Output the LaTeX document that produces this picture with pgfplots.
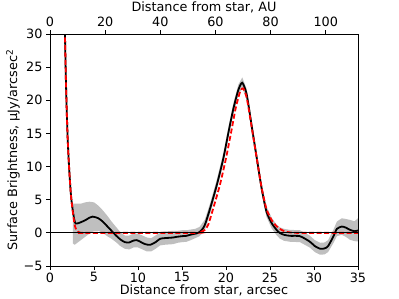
\documentclass[border=0pt]{standalone}
\usepackage{fontspec}
\setmainfont{DejaVu Sans}
\usepackage{pgfplots}
\pgfplotsset{compat=1.18}
\usepgfplotslibrary{fillbetween}

\pgfplotstableread{
x lo hi
2.6 -1.6 4.4
2.8 -1.8 4.4
3.0 -1.6 4.4
3.5 -1.1 4.4
4.0 -0.6 4.6
4.5 -0.1 4.7
5.0 0.3 4.6
5.5 0.3 4.1
6.0 0.0 3.4
6.5 -0.5 2.6
7.0 -0.9 1.7
7.5 -1.4 0.9
8.0 -2.0 0.1
8.5 -2.4 -0.4
9.0 -2.5 -0.4
9.5 -2.2 -0.1
10.0 -2.2 -0.1
10.5 -2.5 -0.4
11.0 -2.8 -0.7
11.5 -2.8 -0.8
12.0 -2.4 -0.4
12.5 -1.9 0.1
13.0 -1.8 0.2
13.5 -1.75 0.25
14.0 -1.7 0.3
14.5 -1.5 0.3
15.0 -1.4 0.4
15.5 -1.35 0.4
16.0 -1.1 0.5
16.5 -0.8 0.6
17.0 -0.5 0.9
17.6 0.4 2.0
18.2 2.9 4.5
18.95 6.4 8.0
19.7 10.45 12.05
20.3 14.5 16.1
20.85 18.0 19.6
21.4 20.75 22.35
21.85 21.85 23.45
22.35 20.1 21.7
22.9 15.5 17.1
23.5 10.45 12.05
24.05 5.9 7.5
24.6 2.4 4.0
25.2 0.65 2.25
25.75 -0.35 1.25
26.1 -0.85 0.85
26.6 -1.2 0.6
27.3 -1.35 0.45
28.4 -1.4 0.4
29.5 -2.2 -0.4
30.1 -2.9 -1.1
30.7 -3.3 -1.5
31.2 -3.25 -1.45
31.6 -2.9 -1.1
32.2 -1.55 0.45
32.6 -0.5 1.7
33.15 -0.3 2.2
33.6 -0.6 2.1
34.1 -1.05 1.95
34.6 -1.25 1.75
35.0 -1.3 2.2
}\bandtab

\pgfplotstableread{
x y
1.65 34
1.7 30
1.8 23.5
1.9 18.5
2.0 14.5
2.1 11.6
2.2 9.2
2.35 6.2
2.45 4.8
2.58 3.45
2.73 2.2
2.85 1.55
2.95 1.4
3.2 1.45
3.5 1.6
4.0 1.9
4.5 2.3
4.85 2.45
5.2 2.35
5.5 2.2
6.0 1.7
6.5 1.0
7.0 0.3
7.5 -0.4
8.0 -1.0
8.5 -1.4
9.0 -1.45
9.5 -1.15
9.85 -1.1
10.2 -1.3
10.8 -1.7
11.4 -1.8
12.0 -1.4
12.5 -0.9
13.0 -0.8
13.5 -0.75
14.0 -0.7
14.4 -0.6
15.0 -0.5
15.5 -0.45
15.9 -0.3
16.4 -0.15
16.85 0.0
17.25 0.45
17.6 1.2
18.2 3.7
18.95 7.2
19.7 11.25
20.3 15.3
20.85 18.8
21.4 21.55
21.85 22.65
22.35 20.9
22.9 16.3
23.5 11.25
24.05 6.7
24.6 3.2
25.2 1.45
25.75 0.45
26.1 0.0
26.6 -0.3
27.3 -0.45
28.4 -0.5
29.5 -1.3
30.1 -2.0
30.7 -2.4
31.2 -2.35
31.6 -2.0
32.2 -0.55
32.6 0.6
33.15 0.95
33.6 0.8
34.1 0.45
34.6 0.25
35.0 0.35
}\obstab

\pgfplotstableread{
x y
1.65 34
1.7 30
1.8 23.5
1.9 18.5
2.0 14.5
2.1 11.6
2.2 9.2
2.35 6.2
2.45 4.8
2.58 3.3
2.73 1.8
2.84 1.0
3.0 0.45
3.2 0.15
3.45 0.02
3.7 0
16.5 0
17.0 0.08
17.6 0.45
18.0 1.3
18.55 3.7
19.3 7.2
20.0 11.25
20.6 15.3
21.1 18.8
21.6 21.3
21.95 21.8
22.35 20.4
22.9 16.1
23.5 11.2
24.05 6.8
24.6 3.6
25.2 1.9
25.75 1.0
26.3 0.45
26.9 0.15
27.5 0.03
28.2 0
35 0
}\modeltab

\begin{document}
\begin{tikzpicture}[font=\fontsize{12.8bp}{15bp}\selectfont]
\begin{axis}[
  at={(0,0)}, anchor=south west,
  scale only axis, width=308bp, height=232bp,
  xmin=0, xmax=35, ymin=-5, ymax=30,
  xtick={0,5,10,15,20,25,30,35},
  xticklabels={0,5,10,15,20,25,30,35},
  ytick={-5,0,5,10,15,20,25,30},
  yticklabels={−5,0,5,10,15,20,25,30},
  tick pos=left, tick align=outside,
  major tick length=4bp,
  tick style={black, line width=0.8bp},
  axis line style={line width=0.8bp},
  xlabel={Distance from star, arcsec},
  ylabel={Surface Brightness, μJy/arcsec\textsuperscript{2}},
  xlabel style={yshift=4bp},
  ylabel style={yshift=-3bp},
  xticklabel style={yshift=1bp},
]
\addplot[name path=up, draw=none, forget plot] table[x=x, y=hi] {\bandtab};
\addplot[name path=dn, draw=none, forget plot] table[x=x, y=lo] {\bandtab};
\addplot[fill=black!25, draw=none, forget plot] fill between[of=up and dn];
\addplot[black, line width=1.8bp, smooth, tension=0.4] table[x=x, y=y] {\obstab};
\addplot[red, line width=1.8bp, dash pattern=on 5bp off 2.5bp, smooth, tension=0.4] table[x=x, y=y] {\modeltab};
\addplot[black, line width=1.2bp] coordinates {(0,0) (35,0)};
\end{axis}
\begin{axis}[
  at={(0,0)}, anchor=south west,
  scale only axis, width=308bp, height=232bp,
  xmin=0, xmax=111.7, ymin=-5, ymax=30,
  axis x line*=top, axis y line=none,
  xtick={0,20,40,60,80,100},
  xticklabels={0,20,40,60,80,100},
  tick align=outside, major tick length=4bp,
  tick style={black, line width=0.8bp},
  axis line style={line width=0.8bp},
  xlabel={Distance from star, AU},
  xlabel style={yshift=-3bp},
]
\addplot[draw=none] coordinates {(0,0) (111.7,0)};
\end{axis}
\pgfresetboundingbox
\path[use as bounding box] (-50bp,-33bp) rectangle (349bp,266bp);
\end{tikzpicture}
\end{document}
